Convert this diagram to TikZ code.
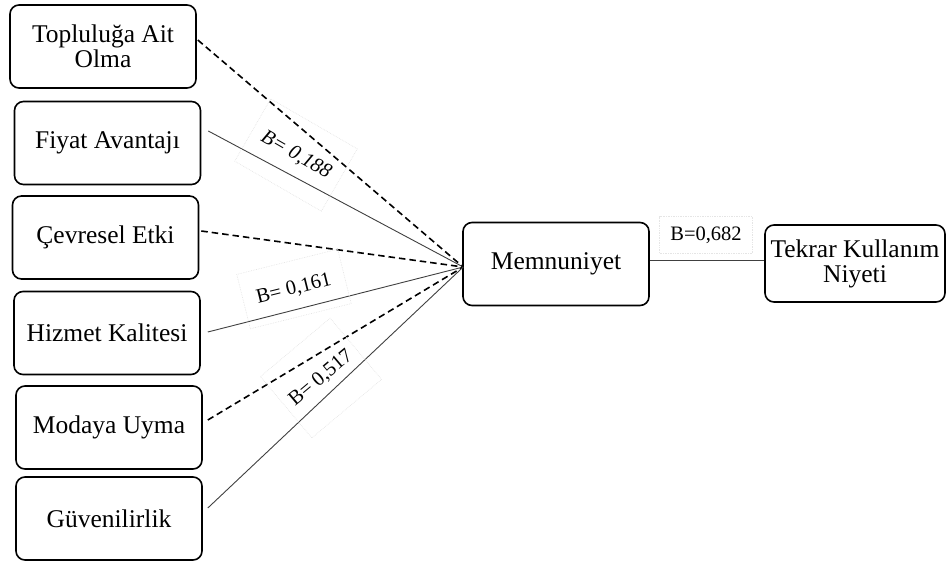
\documentclass[tikz,border=0pt]{standalone}
\usepackage{fontspec}
\setmainfont{Liberation Serif}
\begin{document}
\begin{tikzpicture}[x=1pt,y=-1pt,
  box/.style={draw, line width=1.6pt, rounded corners=9pt, minimum width=186pt,
    minimum height=83pt, align=center, inner sep=2pt,
    font=\fontsize{25.5}{25}\selectfont},
  sig/.style={line width=0.9pt, draw=black!75},
  nonsig/.style={line width=1.6pt, dash pattern=on 6.5pt off 4pt},
  coef/.style={draw=black!10, densely dotted, line width=0.7pt, inner sep=0pt,
    font=\fontsize{20.5}{21}\selectfont}]
\useasboundingbox (0,0) rectangle (949,562);

% antecedent constructs
\node[box] (b1) at (103,46.5)  {Topluluğa Ait\\Olma};
\node[box] (b2) at (107.5,143) {Fiyat Avantajı};
\node[box] (b3) at (105.5,237.5) {Çevresel Etki};
\node[box] (b4) at (107,333)   {Hizmet Kalitesi};
\node[box] (b5) at (109,427.5) {Modaya Uyma};
\node[box] (b6) at (109,518.5) {Güvenilirlik};

% mediator and outcome
\node[box] (mem) at (556,264) {Memnuniyet};
\node[box, minimum width=180pt, minimum height=77pt] (tek) at (855,263.5) {Tekrar Kullanım\\Niyeti};

% common end point on the left side of Memnuniyet
\coordinate (m) at ([shift={(1,3)}]mem.west);

% paths: dashed = not significant, solid = significant
\draw[nonsig] ([shift={(1,-6.5)}]b1.east) -- (m);
\draw[sig]    ([shift={(7,-12)}]b2.east)  -- (m);
\draw[nonsig] ([shift={(2,-6.5)}]b3.east) -- (m);
\draw[sig]    ([shift={(7,-1)}]b4.east)   -- (m);
\draw[nonsig] ([shift={(5,-7.5)}]b5.east) -- (m);
\draw[sig]    ([shift={(5,-10.5)}]b6.east) -- (m);
\draw[sig] ([shift={(0,-4)}]mem.east) -- ([shift={(0,-4)}]mem.east -| tek.west);

% path coefficients
\node[coef, rotate=-30, minimum width=100pt, minimum height=72pt] (c1) at (296,155) {\itshape B= 0,188};
\node[coef, rotate=14, minimum width=104pt, minimum height=56pt] (c2) at (294,289) {B= 0,161};
\node[coef, rotate=40, minimum width=91pt, minimum height=80pt] (c3) at (321,378) {B= 0,517};
\node[coef, minimum width=93pt, minimum height=37pt] (c4) at (706,235) {B=0,682};
\end{tikzpicture}
\end{document}
